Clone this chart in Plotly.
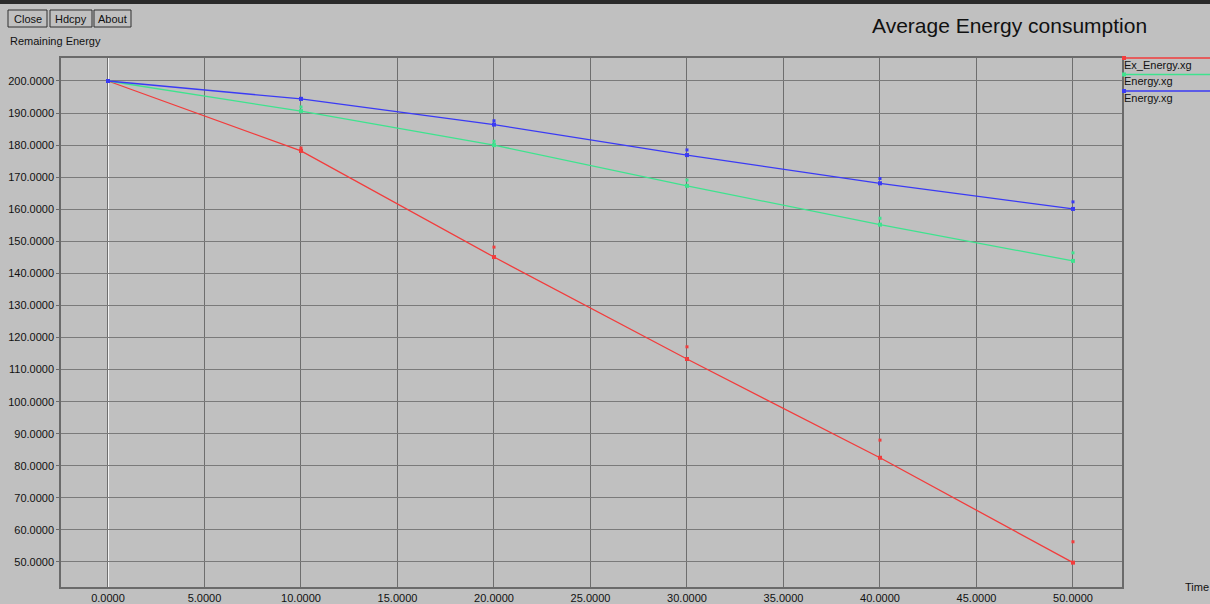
import plotly.graph_objects as go

# ---- data ----
time = [0, 10, 20, 30, 40, 50]
ex_energy_line = [200.0, 178.2, 145.1, 113.3, 82.5, 49.8]
ex_energy_dots = [200.0, 179.1, 148.2, 117.1, 88.0, 56.3]
energy_g_line = [200.0, 190.6, 180.0, 167.3, 155.2, 143.9]
energy_g_dots = [200.0, 191.9, 181.2, 169.1, 157.2, 146.4]
energy_b_line = [200.0, 194.4, 186.4, 176.9, 168.1, 160.1]
energy_b_dots = [200.0, 194.6, 187.6, 178.5, 169.6, 162.3]
series_names = ["Ex_Energy.xg", "Energy.xg", "Energy.xg"]
x_ticks = [0, 5, 10, 15, 20, 25, 30, 35, 40, 45, 50]
y_ticks = [50, 60, 70, 80, 90, 100, 110, 120, 130, 140, 150, 160, 170, 180, 190, 200]

W, H = 1210, 604
L, R, T, B = 61, 1122, 58, 587

def px(x):
    return (x - L) / (R - L)

def py(y):
    return (B - y) / (B - T)

RED, GREEN, BLUE = "#f23c3c", "#3ee38e", "#3a3af5"
BG = "#c0c0c0"
FONT = "Liberation Sans"

fig = go.Figure()
for line, dots, col, name in [
    (ex_energy_line, ex_energy_dots, RED, series_names[0]),
    (energy_g_line, energy_g_dots, GREEN, series_names[1]),
    (energy_b_line, energy_b_dots, BLUE, series_names[2]),
]:
    fig.add_trace(go.Scatter(x=time, y=line, mode="lines+markers", name=name,
                             line=dict(color=col, width=1.3),
                             marker=dict(color=col, size=4, symbol="square"),
                             showlegend=False))
    fig.add_trace(go.Scatter(x=time, y=dots, mode="markers", name=name,
                             marker=dict(color=col, size=3, symbol="square"),
                             showlegend=False))

shapes = []
annotations = []
# white vertical line at x=0
shapes.append(dict(type="line", xref="x", yref="paper", x0=0, x1=0, y0=0, y1=1,
                   line=dict(color="#f4f4f4", width=2), layer="below"))
# top dark window bar
shapes.append(dict(type="rect", xref="paper", yref="paper", x0=px(0), x1=px(W),
                   y0=py(4), y1=py(0), fillcolor="#2a2a2a", line=dict(width=0)))
# buttons
for x0, x1, label in [(8, 47, "Close"), (50, 92, "Hdcpy"), (94, 131, "About")]:
    shapes.append(dict(type="rect", xref="paper", yref="paper", x0=px(x0), x1=px(x1),
                       y0=py(27), y1=py(10), fillcolor=BG,
                       line=dict(color="#303030", width=1)))
    annotations.append(dict(x=px((x0 + x1) / 2), y=py(18.5), xref="paper", yref="paper",
                            text=label, showarrow=False, xanchor="center", yanchor="middle",
                            font=dict(family=FONT, size=11, color="#111")))
# legend
for i, (col, name) in enumerate(zip([RED, GREEN, BLUE], series_names)):
    yy = 58 + i * 16.5
    shapes.append(dict(type="line", xref="paper", yref="paper", x0=px(1123), x1=px(1210),
                       y0=py(yy), y1=py(yy), line=dict(color=col, width=1.3)))
    shapes.append(dict(type="rect", xref="paper", yref="paper", x0=px(1122), x1=px(1126),
                       y0=py(yy + 2), y1=py(yy - 2), fillcolor=col, line=dict(width=0)))
    annotations.append(dict(x=px(1122), y=py(yy + 7), xref="paper", yref="paper",
                            text=name, showarrow=False, xanchor="left", yanchor="middle",
                            font=dict(family=FONT, size=11, color="#111")))
# texts
annotations.append(dict(x=px(1009), y=py(25), xref="paper", yref="paper",
                        text="Average Energy consumption", showarrow=False,
                        xanchor="center", yanchor="middle",
                        font=dict(family=FONT, size=21, color="#111")))
annotations.append(dict(x=px(8), y=py(41), xref="paper", yref="paper",
                        text="Remaining Energy", showarrow=False,
                        xanchor="left", yanchor="middle",
                        font=dict(family=FONT, size=11, color="#111")))
annotations.append(dict(x=px(1183), y=py(587), xref="paper", yref="paper",
                        text="Time", showarrow=False,
                        xanchor="left", yanchor="middle",
                        font=dict(family=FONT, size=11, color="#111")))

fig.update_layout(
    width=W, height=H,
    margin=dict(l=L, r=W - R, t=T, b=H - B, pad=0, autoexpand=False),
    paper_bgcolor=BG, plot_bgcolor=BG,
    shapes=shapes, annotations=annotations,
    font=dict(family=FONT, size=11, color="#111"),
    xaxis=dict(range=[-2.435, 52.54], tickvals=x_ticks, tickformat=".4f",
               automargin=False,
               showgrid=True, gridcolor="#6e6e6e", gridwidth=1.3, zeroline=False,
               showline=True, linecolor="#6a6a6a", linewidth=1.5, mirror=True,
               ticks="", ticklen=0, tickfont=dict(size=11, family=FONT)),
    yaxis=dict(range=[42.2, 207.17], tickvals=y_ticks, tickformat=".4f",
               automargin=False,
               showgrid=True, gridcolor="#7a7a7a", gridwidth=1.3, zeroline=False,
               showline=True, linecolor="#6a6a6a", linewidth=1.5, mirror=True,
               ticks="outside", ticklen=3, tickcolor="#6a6a6a",
               tickfont=dict(size=11, family=FONT)),
)

fig.write_html("out.html", config={"displayModeBar": False},
               post_script="document.body.style.margin='0';document.body.style.overflow='hidden';")
